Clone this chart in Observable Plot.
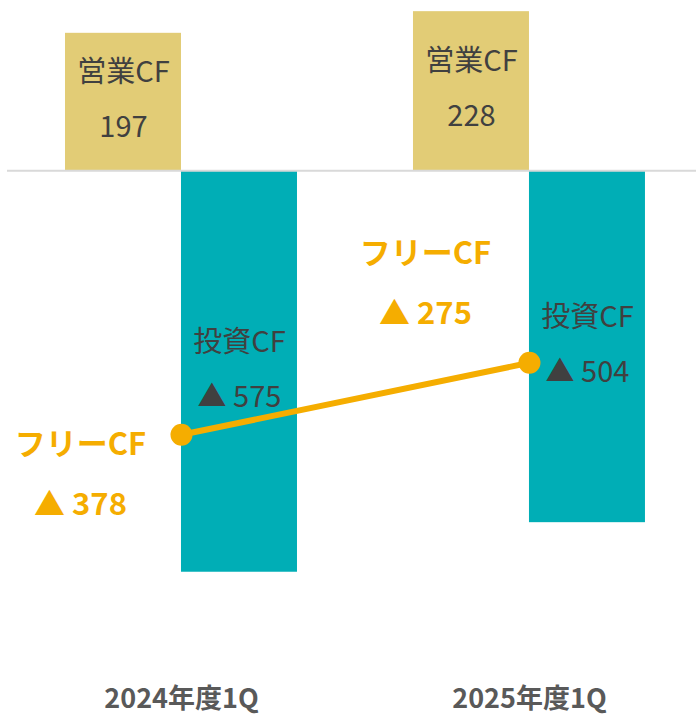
<!DOCTYPE html>
<html>
<head>
<meta charset="utf-8">
<script src="https://cdn.jsdelivr.net/npm/d3@7"></script>
<script src="https://cdn.jsdelivr.net/npm/@observablehq/plot@0.6"></script>
<style>
  html, body { margin: 0; padding: 0; background: #fff; }
  #chart svg { display: block; }
</style>
</head>
<body>
<div id="chart"></div>
<script>
const categories = ["2024年度1Q", "2025年度1Q"];
const operatingCF = [197, 228];
const investingCF = [-575, -504];
const freeCF = [-378, -275];
const operatingLabel = "営業CF";
const investingLabel = "投資CF";
const freeLabel = "フリーCF";

const fmt = v => v < 0 ? `▲ ${Math.abs(v)}` : `${v}`;
const rows = categories.map((c, i) => ({
  i, c,
  op: operatingCF[i],
  inv: investingCF[i],
  free: freeCF[i]
}));

const W = 1 / 3; // bar width in group units
const font = "'Noto Sans CJK JP', 'Noto Sans', sans-serif";
const gold = "#E2CC76", teal = "#00AEB6", orange = "#F5AD00", dark = "#404040";

const chart = Plot.plot({
  width: 696,
  height: 718,
  marginTop: 0,
  marginBottom: 59,
  marginLeft: 7,
  marginRight: 0,
  style: { fontFamily: font, background: "#fff" },
  x: { domain: [-0.5, 1.48], axis: null },
  y: { domain: [-700, 244], axis: null },
  marks: [
    Plot.rectY(rows, { x1: d => d.i - W, x2: d => d.i, y1: 0, y2: "op", fill: gold }),
    Plot.rectY(rows, { x1: d => d.i, x2: d => d.i + W, y1: 0, y2: "inv", fill: teal }),
    Plot.ruleY([0], { stroke: "#D9D9D9", strokeWidth: 2 }),
    Plot.text(rows, {
      x: d => d.i - W / 2, y: d => d.op / 2, dy: -10,
      text: d => `${operatingLabel}\n${fmt(d.op)}`,
      fill: dark, fontSize: 29, lineHeight: 1.9, textAnchor: "middle", lineAnchor: "middle"
    }),
    Plot.text(rows, {
      x: d => d.i + W / 2, y: d => d.inv / 2, dy: -10,
      text: d => `${investingLabel}\n${fmt(d.inv)}`,
      fill: dark, fontSize: 29, lineHeight: 1.9, textAnchor: "middle", lineAnchor: "middle"
    }),
    Plot.line(rows, { x: "i", y: "free", stroke: orange, strokeWidth: 6 }),
    Plot.dot(rows, { x: "i", y: "free", r: 11, fill: orange }),
    Plot.text(rows.filter(d => d.i === 0), {
      x: "i", y: "free", dx: -101, dy: 31,
      text: d => `${freeLabel}\n${fmt(d.free)}`,
      fill: orange, fontSize: 31, fontWeight: "bold", lineHeight: 1.93,
      textAnchor: "middle", lineAnchor: "middle"
    }),
    Plot.text(rows.filter(d => d.i === 1), {
      x: "i", y: "free", dx: -104, dy: -88,
      text: d => `${freeLabel}\n${fmt(d.free)}`,
      fill: orange, fontSize: 31, fontWeight: "bold", lineHeight: 1.93,
      textAnchor: "middle", lineAnchor: "middle"
    }),
    Plot.axisX({
      ticks: rows.map(d => d.i),
      tickFormat: i => categories[i],
      label: null,
      tickSize: 0, tickPadding: 29,
      fontSize: 27, fontWeight: "bold", fill: "#595959", stroke: null
    })
  ]
});
document.getElementById("chart").appendChild(chart);
</script>
</body>
</html>
